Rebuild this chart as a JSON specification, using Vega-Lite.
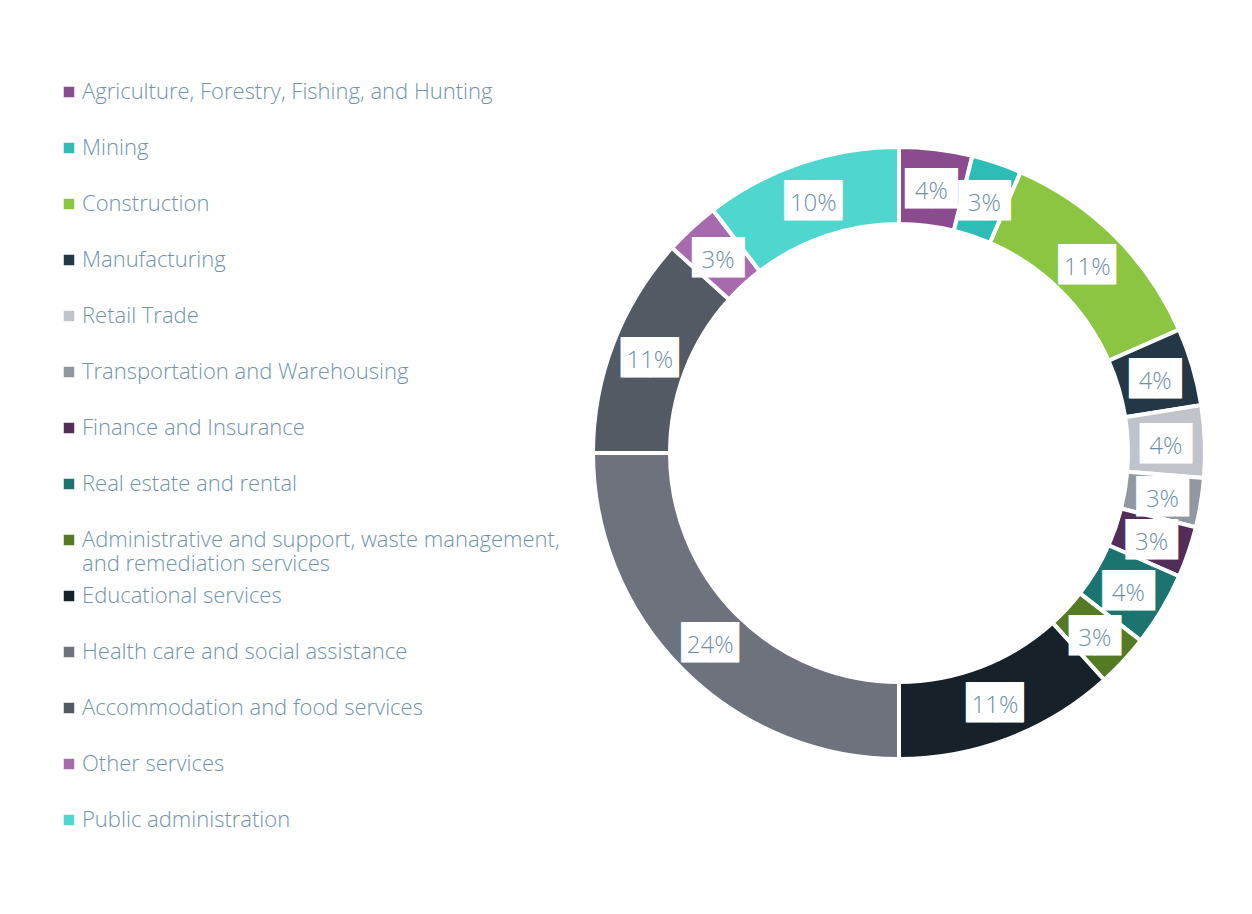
{
  "$schema": "https://vega.github.io/schema/vega-lite/v6.json",
  "width": 608,
  "height": 608,
  "autosize": "none",
  "padding": {"left": 595, "top": 149, "right": 49, "bottom": 157},
  "background": "white",
  "config": {"view": {"stroke": null}},
  "data": {
    "values": [
      {"idx": 1, "sector": "Agriculture, Forestry, Fishing, and Hunting", "share": 3.85, "label": "4%"},
      {"idx": 2, "sector": "Mining", "share": 2.65, "label": "3%"},
      {"idx": 3, "sector": "Construction", "share": 11.9, "label": "11%"},
      {"idx": 4, "sector": "Manufacturing", "share": 4.1, "label": "4%"},
      {"idx": 5, "sector": "Retail Trade", "share": 3.8, "label": "4%"},
      {"idx": 6, "sector": "Transportation and Warehousing", "share": 2.6, "label": "3%"},
      {"idx": 7, "sector": "Finance and Insurance", "share": 2.7, "label": "3%"},
      {"idx": 8, "sector": "Real estate and rental", "share": 3.9, "label": "4%"},
      {"idx": 9, "sector": "Administrative and support, waste management, and remediation services", "share": 2.8, "label": "3%"},
      {"idx": 10, "sector": "Educational services", "share": 11.7, "label": "11%"},
      {"idx": 11, "sector": "Health care and social assistance", "share": 25.0, "label": "24%"},
      {"idx": 12, "sector": "Accommodation and food services", "share": 11.7, "label": "11%"},
      {"idx": 13, "sector": "Other services", "share": 2.9, "label": "3%"},
      {"idx": 14, "sector": "Public administration", "share": 10.4, "label": "10%"}
    ]
  },
  "encoding": {
    "theta": {"field": "share", "type": "quantitative", "stack": true},
    "order": {"field": "idx", "type": "quantitative"}
  },
  "layer": [
    {
      "mark": {"type": "arc", "outerRadius": 306, "innerRadius": 229, "stroke": "white", "strokeWidth": 4},
      "encoding": {
        "color": {
          "field": "sector",
          "type": "nominal",
          "scale": {
            "domain": [
              "Agriculture, Forestry, Fishing, and Hunting",
              "Mining",
              "Construction",
              "Manufacturing",
              "Retail Trade",
              "Transportation and Warehousing",
              "Finance and Insurance",
              "Real estate and rental",
              "Administrative and support, waste management, and remediation services",
              "Educational services",
              "Health care and social assistance",
              "Accommodation and food services",
              "Other services",
              "Public administration"
            ],
            "range": ["#8a4c8f", "#2dbdb6", "#8bc541", "#233746", "#c0c3ca", "#9198a0", "#522d58", "#1b7470", "#557a24", "#16212a", "#6d727d", "#535a63", "#a86aaf", "#4fd6ce"]
          },
          "legend": {
            "orient": "none",
            "legendX": -537,
            "legendY": -68,
            "title": null,
            "symbolType": "square",
            "symbolSize": 110,
            "symbolStrokeWidth": 0,
            "labelFont": "Open Sans",
            "labelFontSize": 22,
            "labelFontWeight": 300,
            "labelColor": "#6f93ad",
            "labelBaseline": "middle",
            "rowPadding": 10,
            "labelOffset": 2,
            "labelLimit": 700,
            "labelExpr": "datum.label == 'Administrative and support, waste management, and remediation services' ? ['Administrative and support, waste management,', 'and remediation services'] : [datum.label, ' ']",
            "encode": {
              "labels": {
                "enter": {"lineHeight": {"value": 32}},
                "update": {"lineHeight": {"value": 32}, "dy": {"value": 16}}
              }
            }
          }
        }
      }
    },
    {
      "mark": {"type": "text", "radius": 267, "font": "DejaVu Sans", "fontSize": 34, "align": "center", "baseline": "middle", "dy": 2},
      "encoding": {
        "detail": {"field": "sector", "type": "nominal"},
        "color": {"value": "white"},
        "text": {"condition": {"test": "length(datum.label) > 2", "value": "▕██▏"}, "value": "██"}
      }
    },
    {
      "mark": {"type": "text", "radius": 267, "font": "Open Sans", "fontSize": 24, "fontWeight": 300, "align": "center", "baseline": "middle", "dy": 4},
      "encoding": {
        "detail": {"field": "sector", "type": "nominal"},
        "color": {"value": "#6f8fa8"},
        "text": {"field": "label", "type": "nominal"}
      }
    }
  ]
}
